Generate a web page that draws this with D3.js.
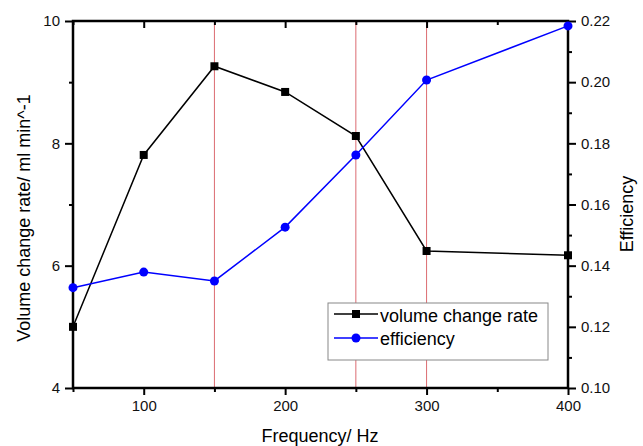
<!DOCTYPE html>
<html><head><meta charset="utf-8">
<script src="https://cdn.jsdelivr.net/npm/d3@7"></script>
<style>body{margin:0;background:#fff}svg text{font-family:"Liberation Sans",Arial,sans-serif}</style>
</head><body><svg width="643" height="446"></svg>
<script>
const freq = [50, 100, 150, 200, 250, 300, 400];
const volumeRate = [5.0, 7.81, 9.26, 8.84, 8.12, 6.24, 6.17];
const efficiency = [0.1328, 0.1379, 0.1350, 0.1526, 0.1762, 0.2007, 0.2184];
const markedFreq = [150, 250, 300];
const xTicks = [100, 200, 300, 400];
const yTicks = [4, 6, 8, 10];
const y2Ticks = [0.10, 0.12, 0.14, 0.16, 0.18, 0.20, 0.22];

const svg = d3.select('svg');
const L = 73, R = 568, T = 21, B = 388;
const x = d3.scaleLinear().domain([50, 400]).range([L, R]);
const y = d3.scaleLinear().domain([4, 10]).range([B, T]);
const y2 = d3.scaleLinear().domain([0.10, 0.22]).range([B, T]);

// red reference lines
svg.append('g').selectAll('line').data(markedFreq).join('line')
  .attr('x1', d => x(d)).attr('x2', d => x(d)).attr('y1', T).attr('y2', B)
  .attr('stroke', '#d4494f').attr('stroke-width', 1).attr('opacity', 0.8);

function style(g) {
  g.select('.domain').remove();
  g.selectAll('line').attr('stroke', '#000').attr('stroke-width', 2);
  g.selectAll('text').attr('font-size', 15).attr('fill', '#111');
}
// minor + major ticks
const minorX = d3.range(50, 401, 50).filter(v => !xTicks.includes(v));
svg.append('g').attr('transform', `translate(0,${B})`)
  .call(d3.axisBottom(x).tickValues(minorX).tickSize(4).tickFormat('')).call(style);
svg.append('g').attr('transform', `translate(0,${B})`)
  .call(d3.axisBottom(x).tickValues(xTicks).tickSize(7).tickPadding(5).tickFormat(d3.format('d'))).call(style);
svg.append('g').attr('transform', `translate(0,${T})`)
  .call(d3.axisBottom(x).tickValues(minorX).tickSize(4).tickFormat('')).call(style);
svg.append('g').attr('transform', `translate(0,${T})`)
  .call(d3.axisBottom(x).tickValues(xTicks).tickSize(7).tickFormat('')).call(style);
svg.append('g').attr('transform', `translate(${L},0)`)
  .call(d3.axisLeft(y).tickValues([5, 7, 9]).tickSize(4).tickFormat('')).call(style);
svg.append('g').attr('transform', `translate(${L},0)`)
  .call(d3.axisLeft(y).tickValues(yTicks).tickSize(8).tickPadding(5).tickFormat(d3.format('d'))).call(style);
svg.append('g').attr('transform', `translate(${R},0)`)
  .call(d3.axisRight(y2).tickValues([0.11, 0.13, 0.15, 0.17, 0.19, 0.21]).tickSize(4).tickFormat('')).call(style);
svg.append('g').attr('transform', `translate(${R},0)`)
  .call(d3.axisRight(y2).tickValues(y2Ticks).tickSize(8).tickPadding(5).tickFormat(d3.format('.2f'))).call(style);

// frame
svg.append('rect').attr('x', L).attr('y', T).attr('width', R - L).attr('height', B - T)
  .attr('fill', 'none').attr('stroke', '#000').attr('stroke-width', 2.5);

// series
const lineV = d3.line().x((d, i) => x(freq[i])).y(d => y(d));
svg.append('path').datum(volumeRate).attr('d', lineV).attr('fill', 'none').attr('stroke', '#000').attr('stroke-width', 1.5);
const lineE = d3.line().x((d, i) => x(freq[i])).y(d => y2(d));
svg.append('path').datum(efficiency).attr('d', lineE).attr('fill', 'none').attr('stroke', '#0000ff').attr('stroke-width', 1.5);
svg.append('g').selectAll('rect').data(volumeRate).join('rect')
  .attr('x', (d, i) => x(freq[i]) - 4).attr('y', d => y(d) - 4).attr('width', 8).attr('height', 8).attr('fill', '#000');
svg.append('g').selectAll('circle').data(efficiency).join('circle')
  .attr('cx', (d, i) => x(freq[i])).attr('cy', d => y2(d)).attr('r', 4.5).attr('fill', '#0000ff');

// titles
svg.append('text').attr('x', 320).attr('y', 442).attr('text-anchor', 'middle').attr('font-size', 18).text('Frequency/ Hz');
svg.append('text').attr('transform', 'translate(30,218) rotate(-90)').attr('text-anchor', 'middle')
  .attr('font-size', 18).text('Volume change rate/ ml min^-1');
svg.append('text').attr('transform', 'translate(633,214) rotate(-90)').attr('text-anchor', 'middle')
  .attr('font-size', 18).text('Efficiency');

// legend
const lg = svg.append('g').attr('transform', 'translate(328,303)');
lg.append('rect').attr('width', 220).attr('height', 57).attr('fill', '#fff').attr('stroke', '#888').attr('stroke-width', 1);
lg.append('line').attr('x1', 6).attr('x2', 50).attr('y1', 11).attr('y2', 11).attr('stroke', '#000').attr('stroke-width', 1.5);
lg.append('rect').attr('x', 24).attr('y', 7).attr('width', 8).attr('height', 8).attr('fill', '#000');
lg.append('text').attr('x', 52).attr('y', 19).attr('font-size', 18).text('volume change rate');
lg.append('line').attr('x1', 6).attr('x2', 50).attr('y1', 35).attr('y2', 35).attr('stroke', '#0000ff').attr('stroke-width', 1.5);
lg.append('circle').attr('cx', 28).attr('cy', 35).attr('r', 4.5).attr('fill', '#0000ff');
lg.append('text').attr('x', 52).attr('y', 42).attr('font-size', 18).text('efficiency');
</script></body></html>
